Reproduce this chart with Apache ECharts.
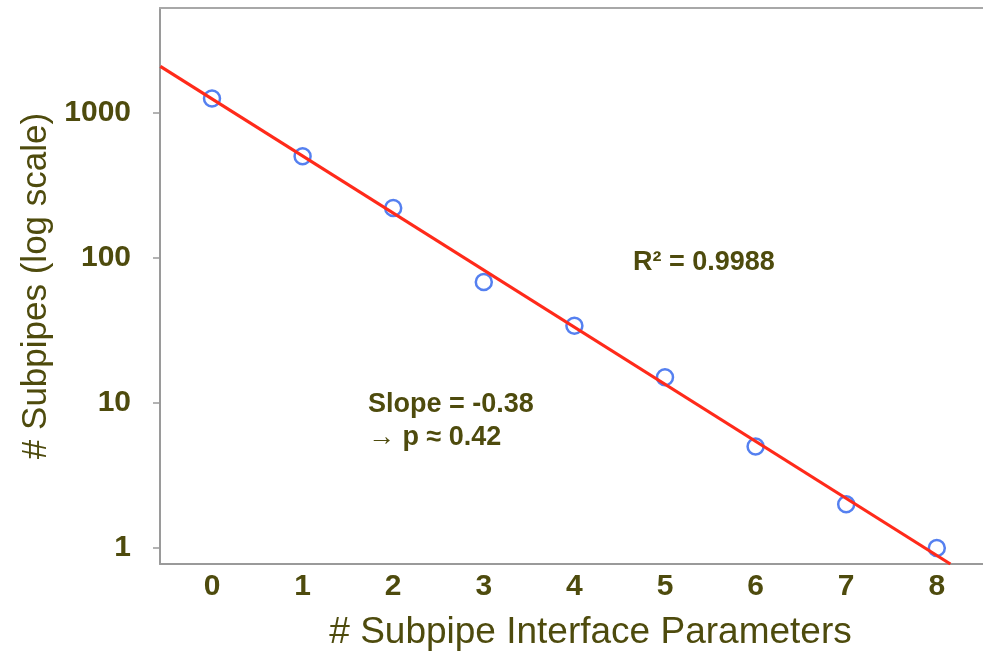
<!DOCTYPE html>
<html>
<head>
<meta charset="utf-8">
<title>Subpipes vs interface parameters</title>
<script src="https://cdn.jsdelivr.net/npm/echarts@6/dist/echarts.min.js"></script>
<style>
  html, body { margin: 0; padding: 0; background: #fff; }
  #chart { width: 983px; height: 657px; }
</style>
</head>
<body>
<div id="chart"></div>
<script>
// Number of subpipe interface parameters
const params = [0, 1, 2, 3, 4, 5, 6, 7, 8];
// Observed subpipe counts
const subpipes = [1250, 500, 220, 68, 34, 15, 5, 2, 1];
// Endpoints of the exponential fit line, [x, y]
const fitLine = [[-0.57, 2080], [8.15, 0.776]];
// Log-axis tick values
const yTicks = [1, 10, 100, 1000];

const olive = '#4e4b0d';
const frame = '#9a9a9a';
const fontFam = '"Liberation Sans", Arial, sans-serif';

const chart = echarts.init(document.getElementById('chart'));
chart.setOption({
  backgroundColor: '#ffffff',
  animation: false,
  // open frame on the right: only left, bottom and top lines are drawn
  grid: { left: 160, right: 0, top: 8, bottom: 93, show: false },
  xAxis: [
    {
      type: 'value',
      min: -0.574, max: 8.51,
      interval: 1,
      name: '# Subpipe Interface Parameters',
      nameLocation: 'middle',
      nameGap: 50,
      nameTextStyle: { color: olive, fontSize: 37, fontFamily: fontFam, padding: [0, 0, 0, 38] },
      axisLine: { show: true, onZero: false, lineStyle: { color: frame, width: 2 } },
      axisTick: { show: false },
      splitLine: { show: false },
      axisLabel: {
        customValues: params,
        color: olive, fontSize: 30, fontWeight: 'bold', fontFamily: fontFam, margin: 8
      }
    },
    {
      // top edge of the frame
      type: 'value',
      position: 'top',
      min: -0.574, max: 8.51,
      axisLine: { show: true, onZero: false, lineStyle: { color: '#a8a8a8', width: 2 } },
      axisTick: { show: false },
      axisLabel: { show: false },
      splitLine: { show: false }
    }
  ],
  yAxis: {
    type: 'log',
    logBase: 10,
    min: 0.776, max: 5250,
    name: '# Subpipes (log scale)',
    nameLocation: 'middle',
    nameGap: 106,
    nameTextStyle: { color: olive, fontSize: 35, fontFamily: fontFam },
    axisLine: { show: true, onZero: false, lineStyle: { color: frame, width: 2 } },
    axisTick: { show: true, customValues: yTicks, length: 7, lineStyle: { color: frame, width: 1.5 } },
    splitLine: { show: false },
    minorTick: { show: false },
    axisLabel: {
      customValues: yTicks,
      formatter: (v) => String(Math.round(v)),
      color: olive, fontSize: 30, fontWeight: 'bold', fontFamily: fontFam, margin: 29
    }
  },
  series: [
    {
      type: 'scatter',
      data: params.map((x, i) => [x, subpipes[i]]),
      symbol: 'circle',
      symbolSize: 16,
      itemStyle: { color: 'rgba(255,255,255,0)', borderColor: '#5580f0', borderWidth: 2.5, opacity: 1 },
      z: 2
    },
    {
      type: 'line',
      data: fitLine,
      showSymbol: false,
      symbol: 'none',
      lineStyle: { color: '#ff2a1a', width: 3.2 },
      clip: true,
      z: 3
    }
  ],
  graphic: [
    {
      type: 'text', left: 633, top: 249,
      style: { text: 'R² = 0.9988', fill: olive, font: 'bold 27px ' + fontFam }
    },
    {
      type: 'text', left: 368, top: 388,
      style: { text: 'Slope = -0.38\n→ p ≈ 0.42', fill: olive, font: 'bold 27px ' + fontFam, lineHeight: 33 }
    }
  ]
});
</script>
</body>
</html>
